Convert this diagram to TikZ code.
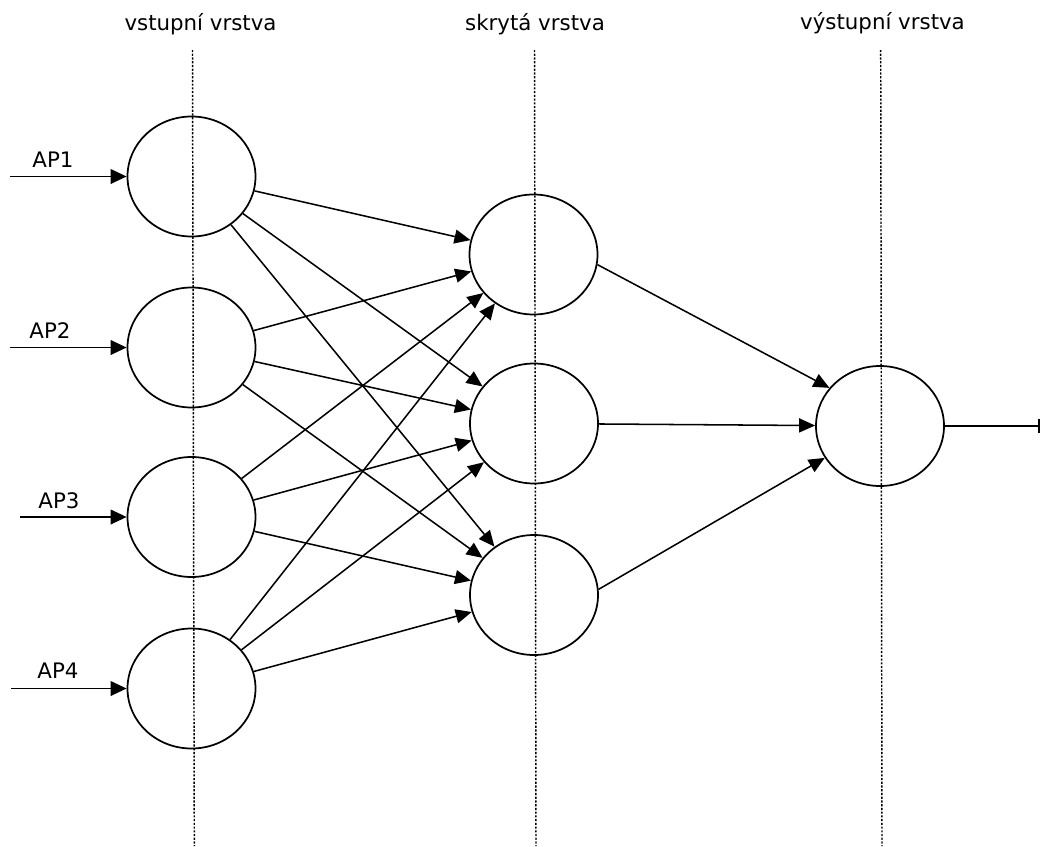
\documentclass[tikz,border=0pt]{standalone}
\usepackage{fontspec}
\setmainfont{DejaVu Sans}
\usetikzlibrary{arrows.meta,shapes.geometric}
\begin{document}
\begin{tikzpicture}[x=0.75pt,y=-0.75pt,
  neuron/.style={ellipse,draw,line width=1.3pt,minimum width=96pt,minimum height=90pt,inner sep=0pt},
  conn/.style={line width=1.15pt,-{Triangle[length=12pt,width=10.5pt]}},
  inarrow/.style={line width=1.15pt,-{Triangle[length=12pt,width=11pt]}},
  guide/.style={line width=1.1pt,dash pattern=on 1.6pt off 1.2pt},
  lbl/.style={font=\fontsize{16pt}{19pt}\selectfont,anchor=base,inner sep=0pt}]
\useasboundingbox (0,0) rectangle (1041,846);
% guide lines
\draw[guide] (192.5,50) -- (194.3,846);
\draw[guide] (534.5,50) -- (536,846);
\draw[guide] (880.7,50) -- (882,846);
% titles
\node[lbl] (t1) at (200.5,31) {vstupní vrstva};
\node[lbl] (t2) at (535,31) {skrytá vrstva};
\node[lbl] (t3) at (882.5,29) {výstupní vrstva};
% neurons
\node[neuron] (i1) at (191.5,176.5) {};
\node[neuron] (i2) at (191.5,347.5) {};
\node[neuron] (i3) at (191.5,517) {};
\node[neuron] (i4) at (191.5,688.5) {};
\node[neuron] (h1) at (533.5,254.5) {};
\node[neuron] (h2) at (534,423.5) {};
\node[neuron] (h3) at (534,595) {};
\node[neuron] (o) at (880,426) {};
% inputs
\coordinate (a1) at (10,176.5);
\coordinate (a2) at (10,347.5);
\coordinate (a3) at (20,517);
\coordinate (a4) at (11,688.5);
\node[lbl] (l1) at (53,167) {AP1};
\node[lbl] (l2) at (50,338) {AP2};
\node[lbl] (l3) at (59,508) {AP3};
\node[lbl] (l4) at (58,678) {AP4};
\draw[inarrow] (a1) -- (i1);
\draw[inarrow] (a2) -- (i2);
\draw[inarrow] (a3) -- (i3);
\draw[inarrow] (a4) -- (i4);
% input to hidden
\foreach \i in {i1,i2,i3,i4}{
  \foreach \h in {h1,h2,h3}{
    \draw[conn] (\i) -- (\h);
  }
}
% hidden to output
\draw[conn] (h1.-9) -- (o.143);
\draw[conn] (h2) -- (o);
\draw[conn] (h3.5) -- (o.-150);
% output
\coordinate (e) at (1040,426);
\draw[line width=1.15pt,-{Bar[width=11pt]}] (o) -- (e);
\end{tikzpicture}
\end{document}
